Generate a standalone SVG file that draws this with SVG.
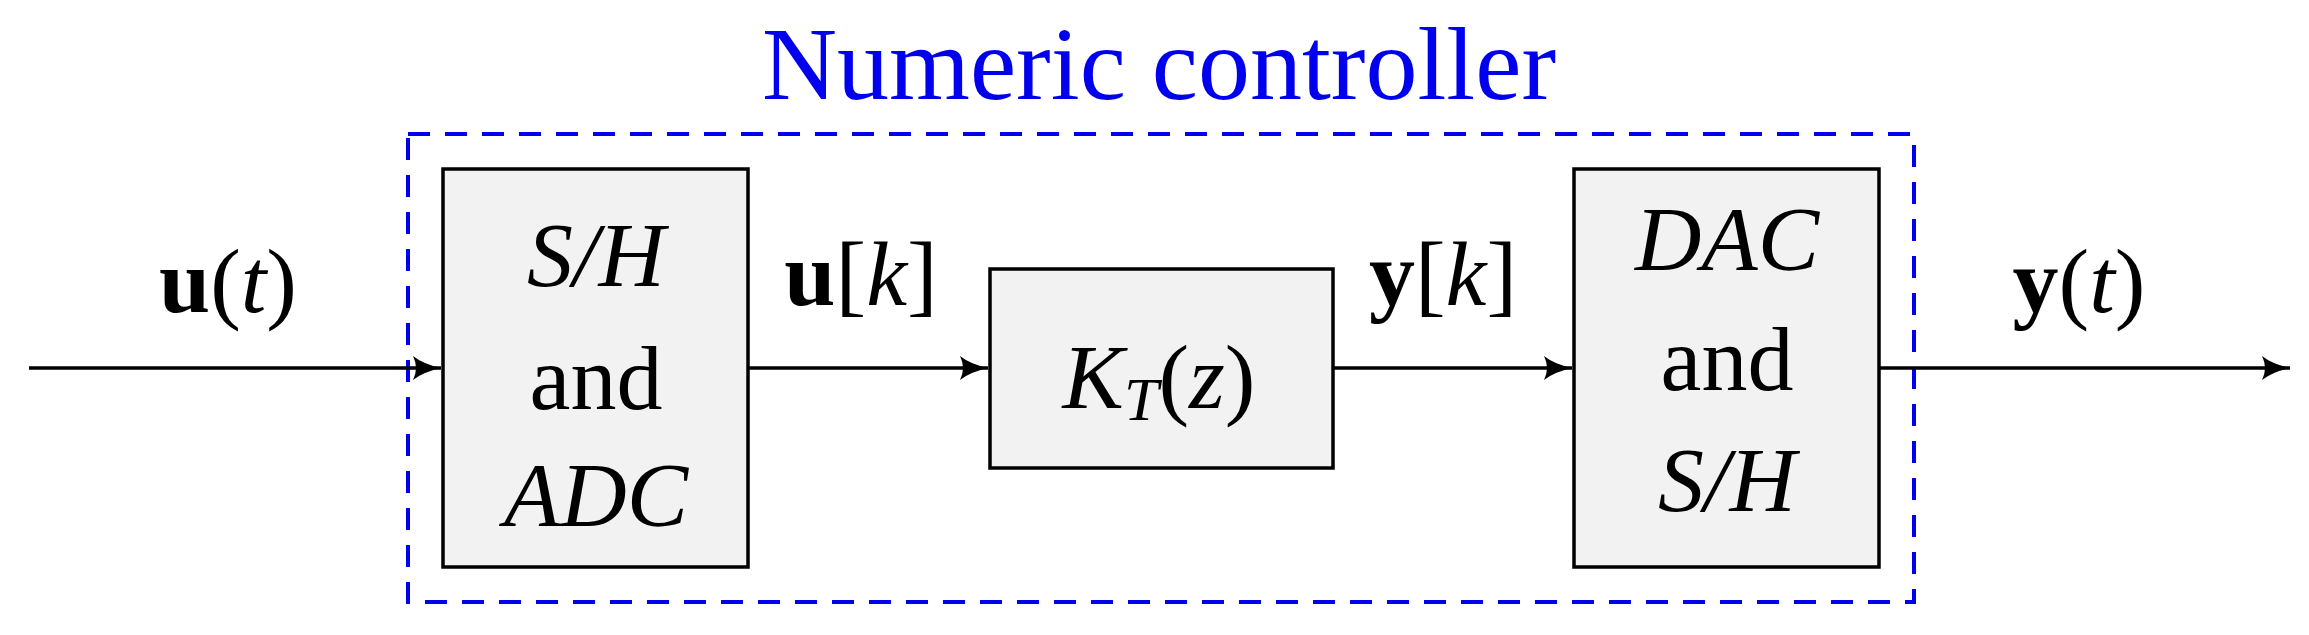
<svg xmlns="http://www.w3.org/2000/svg" width="2309" height="635" viewBox="0 0 2309 635">
<style>
.box{fill:#f2f2f2;stroke:#000;stroke-width:3.5}
.t{font-family:"Liberation Serif","DejaVu Serif",serif;font-size:92px;text-anchor:middle;fill:#000}
.i{font-style:italic}
.b{font-weight:bold;font-style:normal}
</style>
<defs>
<marker id="ah2" viewBox="0 0 30 24" refX="28" refY="12" markerWidth="30" markerHeight="24" orient="auto" markerUnits="userSpaceOnUse"><path d="M0,0 Q10,8 28,12 Q10,16 0,24 Q6,12 0,0 Z" fill="#000"/></marker>
</defs>
<rect width="2309" height="635" fill="#fff"/>
<g id="controller">
<rect x="408" y="134" width="1506" height="468" fill="none" stroke="#0000ee" stroke-width="4" stroke-dasharray="22,15"/>
<text x="1159" y="99" font-family="Liberation Serif,serif" font-size="104" text-anchor="middle" fill="#0000ee">Numeric controller</text>
</g>
<g id="connectors" stroke="#000" stroke-width="3.5" fill="none">
<line x1="29" y1="368" x2="441" y2="368" marker-end="url(#ah2)"/>
<line x1="748" y1="368" x2="988" y2="368" marker-end="url(#ah2)"/>
<line x1="1333" y1="368" x2="1572" y2="368" marker-end="url(#ah2)"/>
<line x1="1879" y1="368" x2="2290" y2="368" marker-end="url(#ah2)"/>
</g>
<g id="sh_adc">
<rect class="box" x="443" y="169" width="305" height="398"/>
<text class="t i" x="596" y="286">S/H</text>
<text class="t" x="596" y="409">and</text>
<text class="t i" x="596" y="526">ADC</text>
</g>
<g id="kt">
<rect class="box" x="990" y="269" width="343" height="199"/>
<text class="t" x="1159" y="408"><tspan class="i">K</tspan><tspan class="i" font-size="62" dy="12">T</tspan><tspan dy="-12">(</tspan><tspan class="i">z</tspan>)</text>
</g>
<g id="dac_sh">
<rect class="box" x="1574" y="169" width="305" height="398"/>
<text class="t i" x="1727" y="270">DAC</text>
<text class="t" x="1727" y="390">and</text>
<text class="t i" x="1727" y="511">S/H</text>
</g>
<g id="labels">
<text class="t" x="228" y="312"><tspan class="b">u</tspan>(<tspan class="i">t</tspan>)</text>
<text class="t" x="861" y="305"><tspan class="b">u</tspan>[<tspan class="i">k</tspan>]</text>
<text class="t" x="1443" y="305"><tspan class="b">y</tspan>[<tspan class="i">k</tspan>]</text>
<text class="t" x="2079" y="312"><tspan class="b">y</tspan>(<tspan class="i">t</tspan>)</text>
</g>
</svg>
